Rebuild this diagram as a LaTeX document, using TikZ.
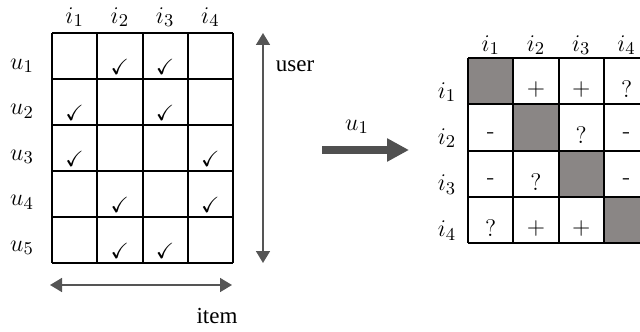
\documentclass[tikz,border=0pt]{standalone}
\usepackage{fontspec}
\usepackage{amssymb}
\newfontfamily\timesfont{Liberation Serif}
\usetikzlibrary{arrows.meta}
\definecolor{cellgrey}{HTML}{8A8685}
\definecolor{pointer}{HTML}{555555}
\definecolor{bigarrow}{HTML}{505050}

\begin{document}
\begin{tikzpicture}[x=0.5pt,y=-0.5pt,>=Latex,line join=miter,font=\fontsize{13}{15}\selectfont]
  \tikzset{
    cellgrid/.style={black,line width=1pt},
    checkcell/.style={inner sep=0pt,font=\fontsize{11}{13}\selectfont},
    entry/.style={inner sep=0pt,font=\fontsize{12}{14}\selectfont},
    axisarrow/.style={pointer,line width=0.8pt,{Triangle[length=6pt,width=7pt]}-{Triangle[length=6pt,width=7pt]}},
    maparrow/.style={bigarrow,line width=3.6pt,-{Triangle[length=11pt,width=11pt]}},
    axislabel/.style={font=\timesfont\fontsize{11.5}{13}\selectfont}
  }
  \useasboundingbox (0,0) rectangle (640,331);
  \clip (0,0) rectangle (640,331);

  % User-item matrix.
  \foreach \c in {0,...,4}
    \draw[cellgrid] ({52+45.25*\c},33) -- ({52+45.25*\c},263);
  \foreach \r in {0,...,5}
    \draw[cellgrid] (52,{33+46*\r}) -- (233,{33+46*\r});
  \foreach \c in {1,...,4}
    \node (ci\c) at ({52+45.25*(\c-0.5)},17) {$i_{\c}$};
  \foreach \r in {1,...,5}
    \node (u\r) at (22,{66+45.5*(\r-1)}) {$u_{\r}$};
  \foreach \c/\r in {2/1,3/1,1/2,3/2,1/3,4/3,2/4,4/4,2/5,3/5}
    \node[checkcell] (chk\c\r) at ({52+45.25*(\c-0.5)},{33+46*\r-12}) {$\checkmark$};

  % Axis arrows.
  \coordinate (userTop) at (263,33);
  \coordinate (userBot) at (263,263);
  \coordinate (itemLeft) at (50,285);
  \coordinate (itemRight) at (232,285);
  \draw[axisarrow] (userTop) -- (userBot);
  \draw[axisarrow] (itemLeft) -- (itemRight);
  \node[axislabel] (user) at (295,66) {user};
  \node[axislabel] (item) at (217,316) {item};

  % Mapping for one user.
  \coordinate (mapTail) at (322,150);
  \coordinate (mapHead) at (409,150);
  \draw[maparrow] (mapTail) -- (mapHead);
  \node (mapLabel) at (357,127) {$u_1$};

  % Item-item matrix.
  \begin{scope}[shift={(468,58)}]
    \foreach \k in {1,...,4}
      \fill[cellgrey] ({45.3*(\k-1)},{46.25*(\k-1)}) rectangle ({45.3*\k},{46.25*\k});
    \foreach \c in {0,...,4}
      \draw[cellgrid] ({45.3*\c},0) -- ({45.3*\c},185);
    \foreach \r in {0,...,4}
      \draw[cellgrid] (0,{46.25*\r}) -- (181.2,{46.25*\r});
    \foreach \c in {1,...,4}
      \node (cj\c) at ({45.3*(\c-0.5)},-13) {$i_{\c}$};
    \foreach \r in {1,...,4}
      \node (rj\r) at (-21,{34+46.25*(\r-1)}) {$i_{\r}$};
    \foreach \c/\r/\t in {2/1/$+$,3/1/$+$,4/1/?,1/2/-,3/2/?,4/2/-,1/3/-,2/3/?,4/3/-,1/4/?,2/4/$+$,3/4/$+$}
      \node[entry] (e\c\r) at ({45.3*(\c-0.5)},{46.25*\r-15}) {\t};
  \end{scope}
\end{tikzpicture}
\end{document}
